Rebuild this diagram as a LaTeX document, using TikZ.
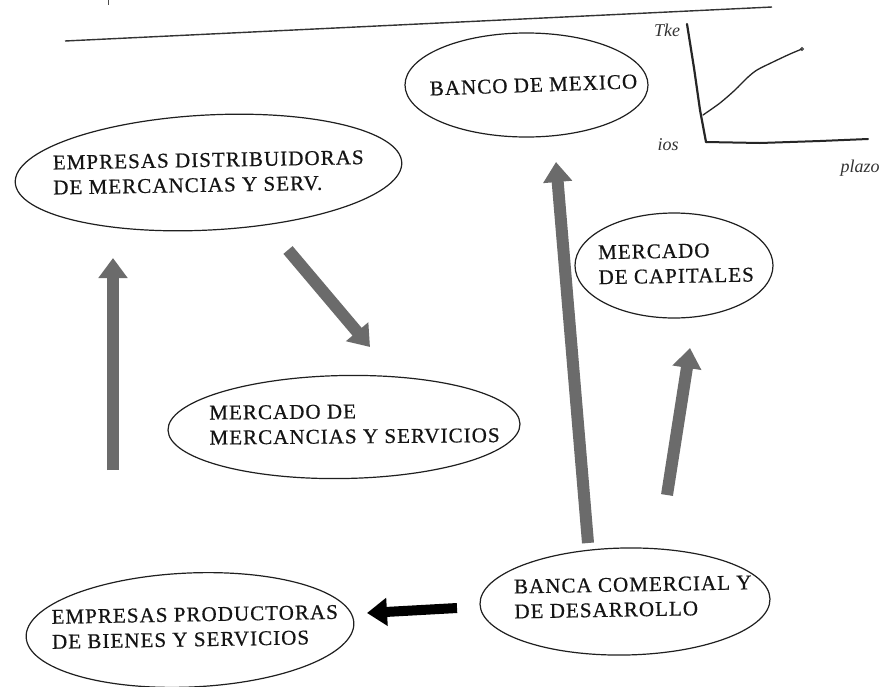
\documentclass[tikz,border=0pt]{standalone}
\usepackage{fontspec}
\setmainfont{Liberation Serif}
\newfontfamily\capsfont[LetterSpace=5,FakeBold=0.6]{Liberation Serif}
\usetikzlibrary{shapes.geometric,arrows.meta}
\begin{document}
\begin{tikzpicture}[x=1pt,y=-1pt,
  ring/.style={draw=black!88, line width=1.2pt, ellipse, inner sep=0pt},
  caption/.style={inner sep=0pt, align=left, text=black!92,
    font=\capsfont\fontsize{21}{25}\selectfont},
  greyflow/.style={draw=black!58, line width=12pt,
    -{Triangle[width=28pt,length=20pt]}},
  blackflow/.style={draw=black, line width=10pt,
    -{Triangle[width=27pt,length=20pt]}},
  sketch/.style={draw=black!85, line cap=round, line join=round},
  scrawl/.style={inner sep=0pt, text=black!80,
    font=\itshape\fontsize{18}{18}\selectfont}]
\useasboundingbox (0,0) rectangle (891,686);
\fill[white] (0,0) rectangle (891,686);

% rule across the top of the sheet
\coordinate (ruleA) at (65,41);
\coordinate (ruleB) at (772,7);
\draw[black!80, line width=1.4pt] (ruleA) -- (ruleB);
\coordinate (tickA) at (108,0);
\coordinate (tickB) at (108,5);
\draw[black!70, line width=1pt] (tickA) -- (tickB);

% the six institutions
\node[ring, minimum width=243pt, minimum height=104pt] (banxico) at (526.5,85) {};
\node[caption, rotate=2] (banxico-t) at ([xshift=7pt]banxico.center) {BANCO DE MEXICO};

\node[ring, minimum width=387pt, minimum height=115pt, rotate=3] (dist) at (208.5,172.5) {};
\node[caption, rotate=1] (dist-t) at (dist.center)
  {EMPRESAS DISTRIBUIDORAS\\DE MERCANCIAS Y SERV.};

\node[ring, minimum width=352pt, minimum height=103pt, rotate=1] (merc) at (344,427) {};
\node[caption, rotate=0.5] (merc-t) at ([xshift=10.5pt,yshift=3pt]merc.center)
  {MERCADO DE\\MERCANCIAS Y SERVICIOS};

\node[ring, minimum width=198pt, minimum height=105pt] (cap) at (674,265.5) {};
\node[caption, rotate=1] (cap-t) at ([xshift=2pt,yshift=2pt]cap.center)
  {MERCADO\\DE CAPITALES};

\node[ring, minimum width=328pt, minimum height=114pt, rotate=2.5] (prod) at (190,630) {};
\node[caption, rotate=1] (prod-t) at ([xshift=5pt,yshift=3pt]prod.center)
  {EMPRESAS PRODUCTORAS\\DE BIENES Y SERVICIOS};

\node[ring, minimum width=290pt, minimum height=107pt, rotate=1] (banca) at (625,601.5) {};
\node[caption, rotate=1] (banca-t) at ([xshift=8pt,yshift=4.5pt]banca.center)
  {BANCA COMERCIAL Y\\DE DESARROLLO};

% flows between them
\coordinate (prod-out) at (113,470);
\coordinate (dist-in) at (113,258);
\draw[greyflow] (prod-out) -- (dist-in);

\coordinate (dist-out) at (288,250);
\coordinate (merc-in) at (370,347);
\draw[greyflow] (dist-out) -- (merc-in);

\coordinate (banca-out1) at (588,543);
\coordinate (banxico-in) at (556,162);
\draw[greyflow] (banca-out1) -- (banxico-in);

\coordinate (banca-out2) at (667,495);
\coordinate (cap-in) at (690,348);
\draw[greyflow] (banca-out2) -- (cap-in);

\coordinate (banca-out3) at (457,608);
\coordinate (prod-in) at (367,613);
\draw[blackflow] (banca-out3) -- (prod-in);

% hand-drawn rate sketch
\draw[sketch, line width=2.2pt] (687,24) -- (694,68) -- (700,110) -- (706,142);
\draw[sketch, line width=2pt] (706,142) -- (760,143) -- (820,141) -- (868,139);
\draw[sketch, line width=1.3pt] plot[smooth] coordinates
  {(703,115) (720,103) (735,90) (747,78) (757,70) (773,62) (790,54) (802,49)};
\draw[black!80, line width=0.8pt] (802,49) circle (1.5pt);
\node[scrawl] (ylab) at (667,30) {Tke};
\node[scrawl] (olab) at (668,145) {ios};
\node[scrawl] (xlab) at (860,168) {plazo};
\end{tikzpicture}
\end{document}
